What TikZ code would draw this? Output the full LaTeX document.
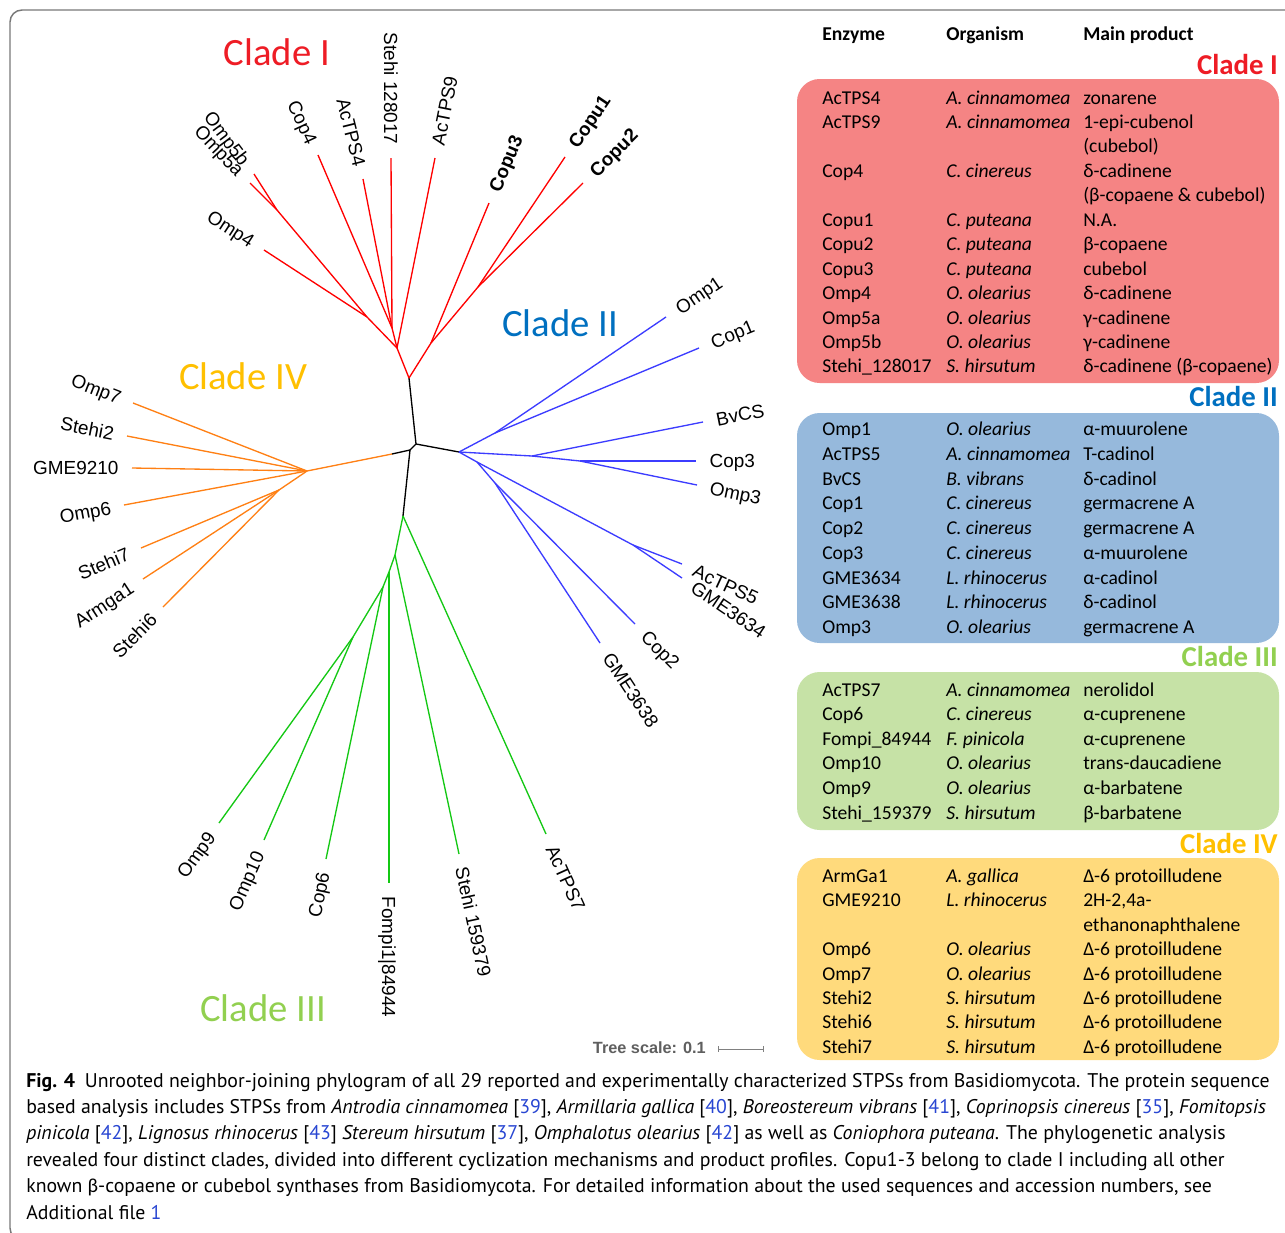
\documentclass[tikz,border=0pt]{standalone}
\usepackage{fontspec}
\setmainfont{Carlito}
\newfontfamily\arialf{Liberation Sans}
\newfontfamily\calf{Carlito}
\newfontfamily\capf{PT Sans}
\definecolor{cRed}{RGB}{255,0,0}
\definecolor{cBlue}{RGB}{60,60,255}
\definecolor{cGreen}{RGB}{20,200,20}
\definecolor{cOrange}{RGB}{255,128,20}
\definecolor{tRed}{RGB}{238,28,37}
\definecolor{tBlue}{RGB}{0,112,192}
\definecolor{tGreen}{RGB}{146,208,80}
\definecolor{tGold}{RGB}{255,192,0}
\definecolor{bxRed}{RGB}{245,132,132}
\definecolor{bxBlue}{RGB}{150,185,220}
\definecolor{bxGreen}{RGB}{198,226,166}
\definecolor{bxYellow}{RGB}{255,218,124}
\definecolor{frameC}{RGB}{120,120,120}
\definecolor{refblue}{RGB}{40,70,210}
\begin{document}
\begin{tikzpicture}[x=0.75pt,y=-0.75pt,
  br/.style={line width=1pt},
  blk/.style={br,black},
  rd/.style={br,cRed},
  bl/.style={br,cBlue},
  gr/.style={br,cGreen},
  og/.style={br,cOrange},
  lab/.style={font=\arialf\fontsize{14.2}{16}\selectfont, inner xsep=10pt, inner ysep=0pt, text height=10.2pt, text depth=0pt},
  labb/.style={lab, font=\arialf\bfseries\fontsize{14.2}{16}\selectfont},
  bigclade/.style={font=\calf\fontsize{29}{33}\selectfont, inner sep=0pt},
  tclade/.style={font=\calf\bfseries\fontsize{21.6}{25}\selectfont, inner sep=0pt, anchor=base east},
  tb/.style={anchor=base west, inner sep=0pt, font=\calf\fontsize{14.7}{17}\selectfont},
  th/.style={anchor=base west, inner sep=0pt, font=\calf\bfseries\fontsize{14.7}{17}\selectfont},
  tbox/.style={rounded corners=17pt},
  captxt/.style={anchor=base west, inner sep=0pt, font=\capf\fontsize{14.85}{17}\selectfont}
]
\useasboundingbox (0,0) rectangle (1285,1232);
\clip (0,0) rectangle (1285,1232);
\fill[white] (0,0) rectangle (1285,1232);
\draw[frameC, line width=1.1pt, rounded corners=9pt] (1300,10) -- (10,10) -- (10,1240) -- (1300,1240);

% ---------------- tree coordinates ----------------
\coordinate (A) at (416,444);
\coordinate (R0) at (409,378);
\coordinate (Bn) at (459,452);
\coordinate (Bx) at (410,450);
\coordinate (Ob) at (392,454);
\coordinate (Gn) at (403,516);
% red
\coordinate (R1) at (397,348);
\coordinate (R2) at (431,343);
\coordinate (R1b) at (392,328);
\coordinate (J4) at (367,317);
\coordinate (J5) at (277,210);
\coordinate (R3) at (478,287);
\coordinate (tOmp5b) at (254,174);
\coordinate (tOmp5a) at (250,183);
\coordinate (tOmp4) at (264,250);
\coordinate (tCop4) at (318,155);
\coordinate (tAcTPS4) at (363,179);
\coordinate (tStehiA) at (391,158);
\coordinate (tAcTPS9) at (435,158);
\coordinate (tCopu3) at (489,203);
\coordinate (tCopu1) at (565,157);
\coordinate (tCopu2) at (583,183);
% blue
\coordinate (B1) at (495,433);
\coordinate (B2) at (532,456);
\coordinate (B3) at (580,461);
\coordinate (B5) at (477,462);
\coordinate (B6) at (633,545);
\coordinate (B7) at (495,483);
\coordinate (tOmp1) at (666,317);
\coordinate (tCop1) at (699,348);
\coordinate (tBvCS) at (703,422);
\coordinate (tCop3) at (696,461);
\coordinate (tOmp3) at (697,485);
\coordinate (tAcTPS5) at (682,564);
\coordinate (tGME3634) at (682,578);
\coordinate (tCop2) at (635,624);
\coordinate (tGME3638) at (600,643);
% green
\coordinate (G1) at (395,555);
\coordinate (G2) at (389,572);
\coordinate (G3) at (383,587);
\coordinate (G4) at (353,637);
\coordinate (tAcTPS7) at (546,834);
\coordinate (tStehiB) at (459,854);
\coordinate (tFompi) at (389,883);
\coordinate (tCop6) at (326,859);
\coordinate (tOmp10) at (264,840);
\coordinate (tOmp9) at (219,823);
% orange
\coordinate (O0) at (307,471);
\coordinate (O1) at (279,490);
\coordinate (tOmp7) at (133,403);
\coordinate (tStehi2) at (127,436);
\coordinate (tGME9210) at (132,468);
\coordinate (tOmp6) at (124,505);
\coordinate (tStehi7) at (141,548);
\coordinate (tArmga1) at (143,579);
\coordinate (tStehi6) at (163,607);

% ---------------- branches ----------------
\draw[blk] (R0) -- (A) -- (Bn);
\draw[blk] (A) -- (Bx) -- (Ob);
\draw[blk] (Bx) -- (Gn);

\draw[rd] (R0) -- (R1);
\draw[rd] (R0) -- (R2);
\draw[rd] (R1) -- (R1b);
\draw[rd] (R1) -- (J4);
\draw[rd] (R1) -- (tAcTPS9);
\draw[rd] (R1b) -- (tCop4);
\draw[rd] (R1b) -- (tAcTPS4);
\draw[rd] (R1b) -- (tStehiA);
\draw[rd] (J4) -- (tOmp4);
\draw[rd] (J4) -- (J5);
\draw[rd] (J5) -- (tOmp5a);
\draw[rd] (J5) -- (tOmp5b);
\draw[rd] (R2) -- (tCopu3);
\draw[rd] (R2) -- (R3);
\draw[rd] (R3) -- (tCopu1);
\draw[rd] (R3) -- (tCopu2);

\draw[bl] (Bn) -- (B1);
\draw[bl] (B1) -- (tOmp1);
\draw[bl] (B1) -- (tCop1);
\draw[bl] (Bn) -- (B2);
\draw[bl] (B2) -- (tBvCS);
\draw[bl] (B2) -- (B3);
\draw[bl] (B3) -- (tCop3);
\draw[bl] (B3) -- (tOmp3);
\draw[bl] (Bn) -- (B5);
\draw[bl] (B5) -- (B6);
\draw[bl] (B6) -- (tAcTPS5);
\draw[bl] (B6) -- (tGME3634);
\draw[bl] (B5) -- (B7);
\draw[bl] (B7) -- (tCop2);
\draw[bl] (B7) -- (tGME3638);

\draw[gr] (Gn) -- (tAcTPS7);
\draw[gr] (Gn) -- (G1);
\draw[gr] (G1) -- (tStehiB);
\draw[gr] (G1) -- (G2);
\draw[gr] (G2) -- (tFompi);
\draw[gr] (G2) -- (G3);
\draw[gr] (G3) -- (tCop6);
\draw[gr] (G3) -- (G4);
\draw[gr] (G4) -- (tOmp10);
\draw[gr] (G4) -- (tOmp9);

\draw[og] (Ob) -- (O0);
\draw[og] (O0) -- (tOmp7);
\draw[og] (O0) -- (tStehi2);
\draw[og] (O0) -- (tGME9210);
\draw[og] (O0) -- (tOmp6);
\draw[og] (O0) -- (O1);
\draw[og] (O1) -- (tStehi7);
\draw[og] (O1) -- (tArmga1);
\draw[og] (O1) -- (tStehi6);

% ---------------- leaf labels ----------------
\node[lab,anchor=east,rotate=-53] (nOmp5b) at (tOmp5b) {Omp5b};
\node[lab,anchor=east,rotate=-47] (nOmp5a) at (tOmp5a) {Omp5a};
\node[lab,anchor=east,rotate=-33] (nOmp4) at (tOmp4) {Omp4};
\node[lab,anchor=east,rotate=-65] (nCop4) at (tCop4) {Cop4};
\node[lab,anchor=east,rotate=-76] (nAcTPS4) at (tAcTPS4) {AcTPS4};
\node[lab,anchor=east,rotate=-90] (nStehiA) at (tStehiA) {Stehi 128017};
\node[lab,anchor=west,rotate=78.7] (nAcTPS9) at (tAcTPS9) {AcTPS9};
\node[labb,anchor=west,rotate=67.5] (nCopu3) at (tCopu3) {Copu3};
\node[labb,anchor=west,rotate=56] (nCopu1) at (tCopu1) {Copu1};
\node[labb,anchor=west,rotate=45] (nCopu2) at (tCopu2) {Copu2};

\node[lab,anchor=west,rotate=34] (nOmp1) at (tOmp1) {Omp1};
\node[lab,anchor=west,rotate=22.6] (nCop1) at (tCop1) {Cop1};
\node[lab,anchor=west,rotate=11.2] (nBvCS) at (tBvCS) {BvCS};
\node[lab,anchor=west] (nCop3) at (tCop3) {Cop3};
\node[lab,anchor=west,rotate=-11.6] (nOmp3) at (tOmp3) {Omp3};
\node[lab,anchor=west,rotate=-25] (nAcTPS5) at (tAcTPS5) {AcTPS5};
\node[lab,anchor=west,rotate=-34] (nGME3634) at (tGME3634) {GME3634};
\node[lab,anchor=west,rotate=-45] (nCop2) at (tCop2) {Cop2};
\node[lab,anchor=west,rotate=-56.7] (nGME3638) at (tGME3638) {GME3638};

\node[lab,anchor=west,rotate=-65.8] (nAcTPS7) at (tAcTPS7) {AcTPS7};
\node[lab,anchor=west,rotate=-77.9] (nStehiB) at (tStehiB) {Stehi 159379};
\node[lab,anchor=west,rotate=-90] (nFompi) at (tFompi) {Fompi1|84944};
\node[lab,anchor=east,rotate=78.2] (nCop6) at (tCop6) {Cop6};
\node[lab,anchor=east,rotate=66.3] (nOmp10) at (tOmp10) {Omp10};
\node[lab,anchor=east,rotate=54.2] (nOmp9) at (tOmp9) {Omp9};

\node[lab,anchor=east,rotate=-21.3] (nOmp7) at (tOmp7) {Omp7};
\node[lab,anchor=east,rotate=-11] (nStehi2) at (tStehi2) {Stehi2};
\node[lab,anchor=east] (nGME9210) at (tGME9210) {GME9210};
\node[lab,anchor=east,rotate=10.5] (nOmp6) at (tOmp6) {Omp6};
\node[lab,anchor=east,rotate=22.8] (nStehi7) at (tStehi7) {Stehi7};
\node[lab,anchor=east,rotate=33.2] (nArmga1) at (tArmga1) {Armga1};
\node[lab,anchor=east,rotate=45.2] (nStehi6) at (tStehi6) {Stehi6};

% clade titles in tree
\node[bigclade,text=tRed] (cI) at (277,52) {Clade I};
\node[bigclade,text=tBlue] (cII) at (560,323) {Clade II};
\node[bigclade,text=tGold] (cIV) at (243,376) {Clade IV};
\node[bigclade,text=tGreen] (cIII) at (263,1008) {Clade III};

% tree scale
\node[anchor=base east, inner sep=0pt, text={rgb,255:red,95;green,95;blue,95}, font=\arialf\bfseries\fontsize{12.2}{14}\selectfont] (tscale) at (706,1053) {Tree scale: 0.1};
\coordinate (sb1) at (718,1049);
\coordinate (sb2) at (763,1049);
\draw[gray, line width=0.6pt] (sb1) -- (sb2);
\draw[gray, line width=0.6pt] ([yshift=2.2pt]sb1) -- ([yshift=-2.2pt]sb1);
\draw[gray, line width=0.6pt] ([yshift=2.2pt]sb2) -- ([yshift=-2.2pt]sb2);

% ---------------- table ----------------
\fill[bxRed,tbox] (797,79) rectangle (1279,383);
\fill[bxBlue,tbox] (797,413) rectangle (1279,643);
\fill[bxGreen,tbox] (797,672) rectangle (1279,830);
\fill[bxYellow,tbox] (797,858) rectangle (1279,1060);

\node[th] (hE) at (822,40.7) {Enzyme};
\node[th] (hO) at (946,40.7) {Organism};
\node[th] (hP) at (1083,40.7) {Main product};

\node[tclade,text=tRed] (tcI) at (1278,74) {Clade I};
\node[tclade,text=tBlue] (tcII) at (1278,406.7) {Clade II};
\node[tclade,text=tGreen] (tcIII) at (1278,666) {Clade III};
\node[tclade,text=tGold] (tcIV) at (1278,853.3) {Clade IV};

\foreach \e/\o/\p [count=\i from 0] in {
  AcTPS4/A. cinnamomea/zonarene,
  AcTPS9/A. cinnamomea/1-epi-cubenol,
  {}/{}/(cubebol),
  Cop4/C. cinereus/δ-cadinene,
  {}/{}/(β-copaene \& cubebol),
  Copu1/C. puteana/N.A.,
  Copu2/C. puteana/β-copaene,
  Copu3/C. puteana/cubebol,
  Omp4/O. olearius/δ-cadinene,
  Omp5a/O. olearius/γ-cadinene,
  Omp5b/O. olearius/γ-cadinene,
  Stehi\_128017/S. hirsutum/δ-cadinene (β-copaene)} {
  \node[tb] (ra\i) at (822,{104+\i*24.45}) {\e};
  \node[tb] (rb\i) at (946,{104+\i*24.45}) {\itshape \o};
  \node[tb] (rc\i) at (1083,{104+\i*24.45}) {\p};
}
\foreach \e/\o/\p [count=\i from 0] in {
  Omp1/O. olearius/α-muurolene,
  AcTPS5/A. cinnamomea/T-cadinol,
  BvCS/B. vibrans/δ-cadinol,
  Cop1/C. cinereus/germacrene A,
  Cop2/C. cinereus/germacrene A,
  Cop3/C. cinereus/α-muurolene,
  GME3634/L. rhinocerus/α-cadinol,
  GME3638/L. rhinocerus/δ-cadinol,
  Omp3/O. olearius/germacrene A} {
  \node[tb] (ba\i) at (822,{435.7+\i*24.75}) {\e};
  \node[tb] (bb\i) at (946,{435.7+\i*24.75}) {\itshape \o};
  \node[tb] (bc\i) at (1083,{435.7+\i*24.75}) {\p};
}
\foreach \e/\o/\p [count=\i from 0] in {
  AcTPS7/A. cinnamomea/nerolidol,
  Cop6/C. cinereus/α-cuprenene,
  Fompi\_84944/F. pinicola/α-cuprenene,
  Omp10/O. olearius/trans-daucadiene,
  Omp9/O. olearius/α-barbatene,
  Stehi\_159379/S. hirsutum/β-barbatene} {
  \node[tb] (ga\i) at (822,{696+\i*24.66}) {\e};
  \node[tb] (gb\i) at (946,{696+\i*24.66}) {\itshape \o};
  \node[tb] (gc\i) at (1083,{696+\i*24.66}) {\p};
}
\foreach \e/\o/\p [count=\i from 0] in {
  ArmGa1/A. gallica/Δ-6 protoilludene,
  GME9210/L. rhinocerus/{2H-2,4a-},
  {}/{}/ethanonaphthalene,
  Omp6/O. olearius/Δ-6 protoilludene,
  Omp7/O. olearius/Δ-6 protoilludene,
  Stehi2/S. hirsutum/Δ-6 protoilludene,
  Stehi6/S. hirsutum/Δ-6 protoilludene,
  Stehi7/S. hirsutum/Δ-6 protoilludene} {
  \node[tb] (ya\i) at (822,{882.3+\i*24.43}) {\e};
  \node[tb] (yb\i) at (946,{882.3+\i*24.43}) {\itshape \o};
  \node[tb] (yc\i) at (1083,{882.3+\i*24.43}) {\p};
}

% ---------------- caption ----------------
\node[captxt] (cap1) at (26,1087) {\textbf{Fig. 4}\enspace Unrooted neighbor-joining phylogram of all 29 reported and experimentally characterized STPSs from Basidiomycota. The protein sequence};
\node[captxt] (cap2) at (26,1113.4) {based analysis includes STPSs from \textit{Antrodia cinnamomea} [\textcolor{refblue}{39}], \textit{Armillaria gallica} [\textcolor{refblue}{40}], \textit{Boreostereum vibrans} [\textcolor{refblue}{41}], \textit{Coprinopsis cinereus} [\textcolor{refblue}{35}], \textit{Fomitopsis}};
\node[captxt] (cap3) at (26,1139.8) {\textit{pinicola} [\textcolor{refblue}{42}], \textit{Lignosus rhinocerus} [\textcolor{refblue}{43}] \textit{Stereum hirsutum} [\textcolor{refblue}{37}], \textit{Omphalotus olearius} [\textcolor{refblue}{42}] as well as \textit{Coniophora puteana}. The phylogenetic analysis};
\node[captxt] (cap4) at (26,1166.2) {revealed four distinct clades, divided into different cyclization mechanisms and product profiles. Copu1-3 belong to clade I including all other};
\node[captxt] (cap5) at (26,1192.6) {known {\calf β}-copaene or cubebol synthases from Basidiomycota. For detailed information about the used sequences and accession numbers, see};
\node[captxt] (cap6) at (26,1219) {Additional file \textcolor{refblue}{1}};
\end{tikzpicture}
\end{document}
